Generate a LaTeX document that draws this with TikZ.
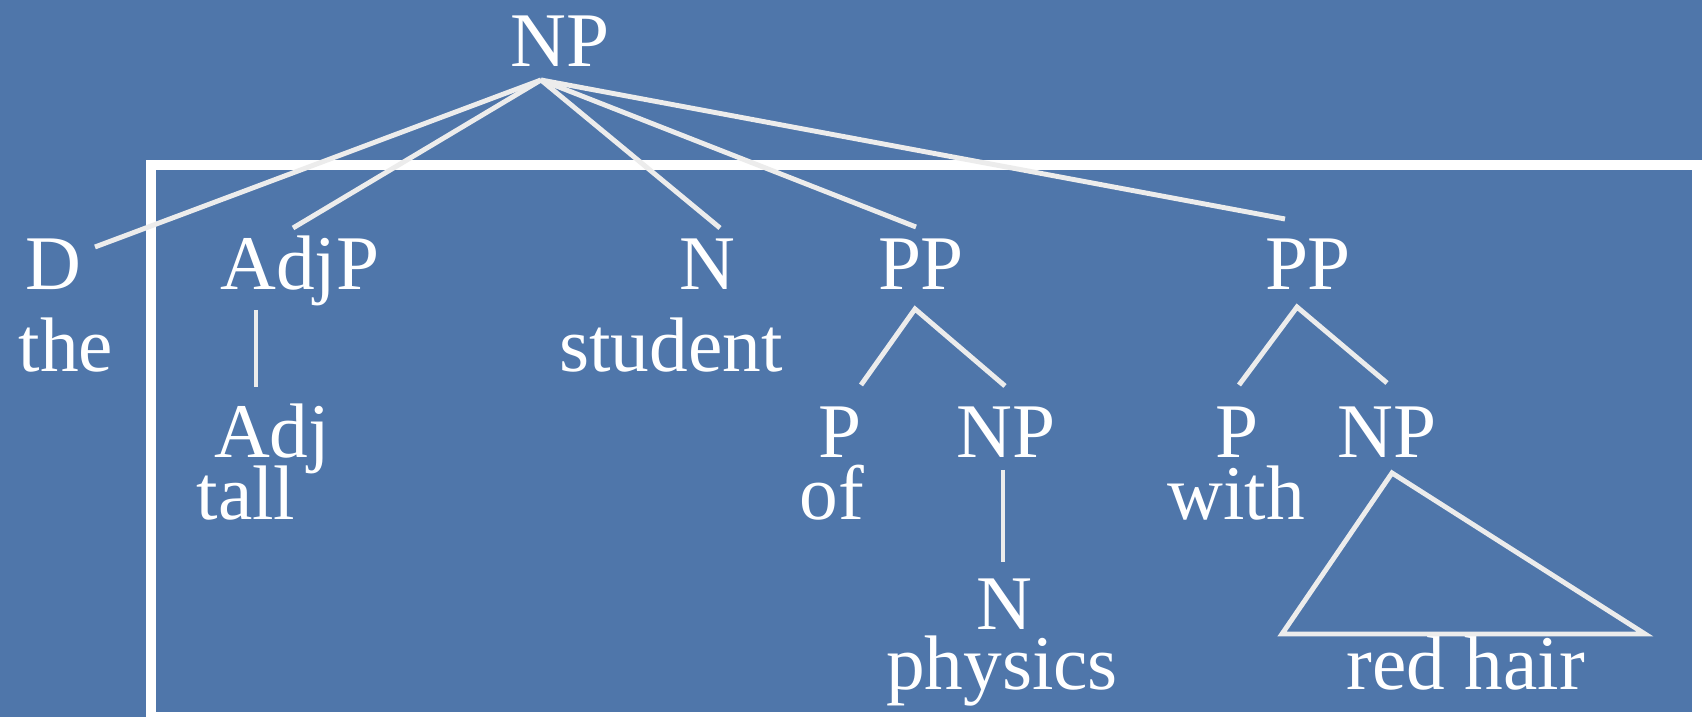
\documentclass[tikz,border=0pt]{standalone}
\usepackage{fontspec}
\setmainfont{Liberation Serif}
\definecolor{slide}{RGB}{79,118,170}
\definecolor{branchgray}{RGB}{236,236,236}

\begin{document}
\begin{tikzpicture}[
  cat/.style={anchor=base, text=white, inner sep=0pt,
              font=\fontsize{22}{26}\selectfont},
  word/.style={cat},
  branch/.style={draw=branchgray, line width=1.4pt},
  frame/.style={draw=white, line width=2.85pt}
]
\fill[slide] (0,0) rectangle (17.02,-7.17);
\useasboundingbox (0,0) rectangle (17.02,-7.17);
\draw[frame] (1.51,-1.65) rectangle (16.97,-7.17);

% top level
\node[cat] (np) at (5.60,-0.67) {NP};
\node[cat] (d) at (0.53,-2.90) {D};
\node[word] (the) at (0.66,-3.72) {the};
\node[cat] (adjp) at (3.00,-2.90) {AdjP};
\node[cat] (adj) at (2.72,-4.58) {Adj};
\node[word] (tall) at (2.46,-5.20) {tall};
\node[cat] (n) at (7.07,-2.90) {N};
\node[word] (student) at (6.71,-3.72) {student};

% first PP
\node[cat] (pp1) at (9.21,-2.90) {PP};
\node[cat] (p1) at (8.40,-4.58) {P};
\node[word] (of) at (8.32,-5.20) {of};
\node[cat] (np1) at (10.06,-4.58) {NP};
\node[cat] (n1) at (10.04,-6.30) {N};
\node[word] (physics) at (10.02,-6.90) {physics};

% second PP
\node[cat] (pp2) at (13.08,-2.90) {PP};
\node[cat] (p2) at (12.37,-4.58) {P};
\node[word] (with) at (12.36,-5.20) {with};
\node[cat] (np2) at (13.87,-4.58) {NP};
\node[word] (redhair) at (14.66,-6.90) {red hair};

% branch ends
\coordinate (npfoot) at (5.41,-0.80);
\coordinate (dtop) at (0.95,-2.47);
\coordinate (adjptop) at (2.93,-2.28);
\coordinate (ntop) at (7.20,-2.28);
\coordinate (pp1top) at (9.16,-2.27);
\coordinate (pp2top) at (12.85,-2.19);
\coordinate (adjpfoot) at (2.56,-3.10);
\coordinate (adjtop) at (2.56,-3.87);
\coordinate (pp1foot) at (9.15,-3.09);
\coordinate (p1top) at (8.61,-3.85);
\coordinate (np1top) at (10.05,-3.86);
\coordinate (np1foot) at (10.03,-4.70);
\coordinate (n1top) at (10.03,-5.62);
\coordinate (pp2foot) at (12.97,-3.07);
\coordinate (p2top) at (12.39,-3.85);
\coordinate (np2top) at (13.87,-3.83);
\coordinate (np2foot) at (13.92,-4.73);
\coordinate (rhleft) at (12.82,-6.34);
\coordinate (rhright) at (16.45,-6.34);

\draw[branch] (npfoot) -- (dtop);
\draw[branch] (npfoot) -- (adjptop);
\draw[branch] (npfoot) -- (ntop);
\draw[branch] (npfoot) -- (pp1top);
\draw[branch] (npfoot) -- (pp2top);
\draw[branch] (adjpfoot) -- (adjtop);
\draw[branch] (p1top) -- (pp1foot) -- (np1top);
\draw[branch] (np1foot) -- (n1top);
\draw[branch] (p2top) -- (pp2foot) -- (np2top);
\draw[branch] (np2foot) -- (rhleft) -- (rhright) -- cycle;
\end{tikzpicture}
\end{document}
